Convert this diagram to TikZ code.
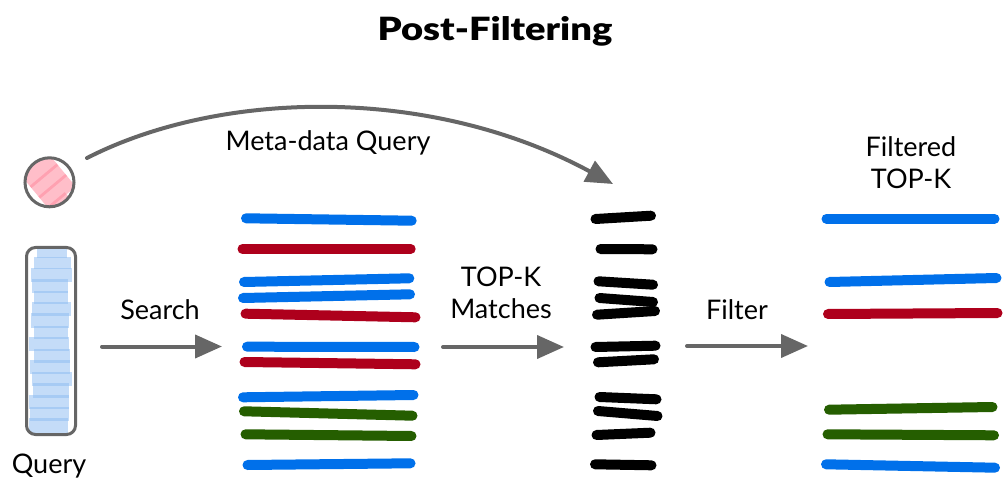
\documentclass[tikz,border=0pt]{standalone}
\usepackage{fontspec}
\setmainfont{Lato}
\newfontfamily\titlefont[FakeStretch=1.19]{Lato Black}
\usetikzlibrary{arrows.meta}
\definecolor{bblue}{HTML}{0070EA}
\definecolor{bred}{HTML}{AE001C}
\definecolor{bgreen}{HTML}{255E00}
\definecolor{agray}{HTML}{666666}
\definecolor{qblue}{HTML}{8ABAF1}
\definecolor{qpink}{HTML}{FF899D}
\tikzset{
  bar/.style={line width=10pt,line cap=round},
  bluebar/.style={bar,draw=bblue},
  redbar/.style={bar,draw=bred},
  greenbar/.style={bar,draw=bgreen},
  blackbar/.style={bar,draw=black},
  flow/.style={draw=agray,line width=4pt,line cap=round,-{Triangle[length=27pt,width=23pt]}},
  lbl/.style={anchor=base,align=center,inner sep=0pt,font=\fontsize{27}{32}\selectfont},
  framed/.style={draw=agray,line width=3pt},
  qstrip/.style={fill=qblue,fill opacity=.5},
  pstrip/.style={draw=qpink,draw opacity=.55,line width=16.5pt}
}
\begin{document}
\begin{tikzpicture}[x=1pt,y=-1pt]
\useasboundingbox (0,0) rectangle (1004,489);
% title
\node[lbl,font=\fontsize{32}{40}\titlefont] (title) at (495,41) {Post-Filtering};
% pink circle
\begin{scope}
\clip (49.5,182.3) circle (23.5);
\draw[pstrip] (26.2,181.7) -- (53.1,159.3);
\draw[pstrip] (34.9,192.2) -- (61.8,169.8);
\draw[pstrip] (43.6,202.7) -- (70.5,180.3);
\draw[pstrip] (52.3,213.2) -- (70,198.5);
\end{scope}
\node[framed,circle,minimum size=49pt,inner sep=0pt] (meta) at (49.5,182.3) {};
% blue query strips
\foreach \xa/\xb/\ya/\yb in {37/67/248/258,34/71/257/269,31/72/268/282,32/68/279/293,34/68/291/304,32/71/302/316,31/69/313/328,34/68/326/339,29/69/337/351,34/70/349/363,30/70/360/374,32/72/372/386,33/69/383/398,29/69/395/409,30/69/407/421,29/68/418/433}
  \fill[qstrip] (\xa,\ya) rectangle (\xb,\yb);
\node[framed,rounded corners=9pt,minimum width=49pt,minimum height=187pt,inner sep=0pt] (query) at (51,341) {};
\node[lbl] (querylabel) at (49,473) {Query};
% result bars
\draw[bluebar] (246,218.3) -- (411.7,220.7);
\draw[redbar] (242.5,249) -- (410.7,249);
\draw[bluebar] (244,282) -- (409.3,278.3);
\draw[bluebar] (243,298) -- (410,294.3);
\draw[redbar] (245.5,313.7) -- (415.5,317.3);
\draw[bluebar] (247,346.7) -- (414.5,347);
\draw[redbar] (244.5,362) -- (415.5,364.3);
\draw[bluebar] (243,397.3) -- (413.5,395);
\draw[greenbar] (244,411.3) -- (412.5,415.7);
\draw[greenbar] (245.5,434.3) -- (411.5,436);
\draw[bluebar] (247.5,465) -- (410.5,463.3);
% black bars
\draw[blackbar] (595.5,219) -- (651,215.7);
\draw[blackbar] (600.5,249) -- (652.5,249.3);
\draw[blackbar] (598.5,281.3) -- (653,284.7);
\draw[blackbar] (599.5,298) -- (653,302);
\draw[blackbar] (597,314.7) -- (655,311);
\draw[blackbar] (595.5,347) -- (655.5,345.7);
\draw[blackbar] (598,362.3) -- (654,359.3);
\draw[blackbar] (599.5,397) -- (656.5,399.3);
\draw[blackbar] (598,411) -- (657.5,416);
\draw[blackbar] (596.5,435) -- (650.5,432.7);
\draw[blackbar] (595,464.3) -- (651.5,465.3);
% filtered bars
\draw[bluebar] (826.5,218.7) -- (994.5,218.7);
\draw[bluebar] (829.5,282) -- (996.5,278);
\draw[redbar] (828,314) -- (997.5,313);
\draw[greenbar] (829,409.7) -- (992.5,407);
\draw[greenbar] (827.5,434.3) -- (994,435.3);
\draw[bluebar] (826,464.3) -- (995,467.7);
% labels
\node[lbl] (metalabel) at (328,151) {Meta-data Query};
\node[lbl] (filteredlabel) at (911,157) {Filtered};
\node[lbl] (filteredtopk) at (911,189) {TOP-K};
\node[lbl] (searchlabel) at (160,319) {Search};
\node[lbl] (topklabel) at (501,286) {TOP-K};
\node[lbl] (matcheslabel) at (501,318) {Matches};
\node[lbl] (filterlabel) at (737,319) {Filter};
% connectors
\coordinate (sa) at (102,346.5); \coordinate (sb) at (222,346.5);
\coordinate (ta) at (443,347); \coordinate (tb) at (564,347);
\coordinate (fa) at (687,346); \coordinate (fb) at (808,346);
\coordinate (ma) at (87,158); \coordinate (mb) at (613,184);
\draw[flow] (sa) -- (sb);
\draw[flow] (ta) -- (tb);
\draw[flow] (fa) -- (fb);
\draw[flow] (ma) .. controls (220,90) and (430,85) .. (mb);
\end{tikzpicture}
\end{document}
